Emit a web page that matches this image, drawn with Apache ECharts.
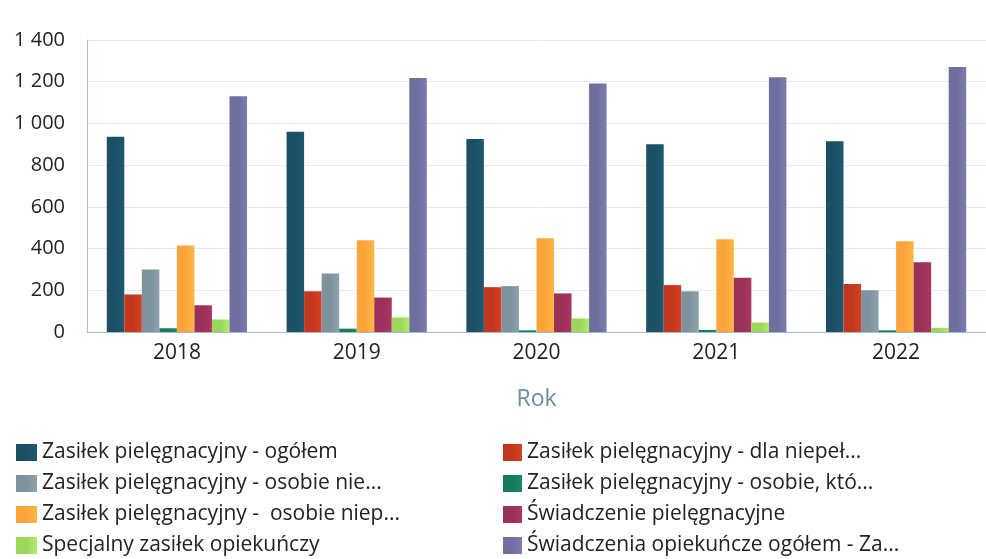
<!DOCTYPE html>
<html>
<head>
    <meta charset="utf-8">
    <title>Rok</title>
    <script src="https://cdn.jsdelivr.net/npm/echarts@6/dist/echarts.min.js"></script>
    <style>
        html, body { margin: 0; padding: 0; background: #fff; }
        #chart { width: 986px; height: 559px; }
    </style>
</head>
<body>
<div id="chart"></div>
<script>
    var years = ['2018', '2019', '2020', '2021', '2022'];
    var seriesNames = [
        'Zasiłek pielęgnacyjny - ogółem',
        'Zasiłek pielęgnacyjny - dla niepeł...',
        'Zasiłek pielęgnacyjny - osobie nie...',
        'Zasiłek pielęgnacyjny - osobie, któ...',
        'Zasiłek pielęgnacyjny -  osobie niep...',
        'Świadczenie pielęgnacyjne',
        'Specjalny zasiłek opiekuńczy',
        'Świadczenia opiekuńcze ogółem - Za...'
    ];
    var ogolem = [936, 960, 925, 900, 915];
    var dlaNiepel = [180, 195, 215, 225, 230];
    var osobieNie = [300, 280, 220, 195, 200];
    var osobieKto = [18, 16, 8, 10, 8];
    var osobieNiep = [415, 440, 450, 445, 435];
    var swiadczenie = [128, 165, 185, 260, 335];
    var specjalny = [60, 70, 65, 45, 20];
    var opiekuncze = [1130, 1218, 1192, 1222, 1270];
    var yTicks = [0, 200, 400, 600, 800, 1000, 1200, 1400];

    var seriesData = [ogolem, dlaNiepel, osobieNie, osobieKto, osobieNiep, swiadczenie, specjalny, opiekuncze];
    var colors = ['#1c4f66', '#c2381f', '#7d929c', '#167a5f', '#fba43c', '#9a3159', '#9cd65c', '#6f6f9f'];

    // lekki efekt walca na słupkach
    function shade(c) {
        return new echarts.graphic.LinearGradient(0, 0, 1, 0, [
            { offset: 0, color: c },
            { offset: 0.5, color: c },
            { offset: 1, color: echarts.color.lift(c, -0.12) }
        ]);
    }

    var series = [];
    for (var i = 0; i < seriesNames.length; i++) {
        series.push({
            name: seriesNames[i],
            type: 'bar',
            data: seriesData[i],
            barGap: '0%',
            barCategoryGap: '22%',
            itemStyle: { color: shade(colors[i]) }
        });
    }

    var legendText = { fontFamily: 'Open Sans', fontSize: 21, color: '#222' };

    var chart = echarts.init(document.getElementById('chart'));
    chart.setOption({
        color: colors,
        animation: false,
        grid: { left: 87, top: 40, width: 913, bottom: 227 },
        legend: [
            {
                orient: 'vertical', left: 16, top: 442, height: 117, padding: 0, itemGap: 10,
                itemWidth: 21, itemHeight: 17, icon: 'rect',
                textStyle: legendText,
                data: [seriesNames[0], seriesNames[2], seriesNames[4], seriesNames[6]]
            },
            {
                orient: 'vertical', left: 503, top: 442, height: 117, padding: 0, itemGap: 10,
                itemWidth: 19, itemHeight: 17, icon: 'rect',
                textStyle: legendText,
                data: [seriesNames[1], seriesNames[3], seriesNames[5], seriesNames[7]]
            }
        ],
        xAxis: {
            type: 'category',
            data: years,
            name: 'Rok',
            nameLocation: 'middle',
            nameGap: 56,
            nameTextStyle: { fontFamily: 'Open Sans', fontSize: 23, color: '#6d8ca6' },
            axisLine: { lineStyle: { color: '#a9bccb' } },
            axisTick: { show: false },
            axisLabel: { fontFamily: 'Open Sans', fontSize: 21, color: '#222', margin: 11 }
        },
        yAxis: {
            type: 'value',
            min: yTicks[0],
            max: yTicks[yTicks.length - 1],
            interval: 200,
            axisLine: { show: true, lineStyle: { color: '#a9bccb' } },
            splitLine: { lineStyle: { color: '#e3ebf2' } },
            axisLabel: {
                fontFamily: 'Open Sans', fontSize: 20, color: '#222', margin: 22,
                formatter: function (v) {
                    return String(v).replace(/\B(?=(\d{3})+(?!\d))/g, ' ');
                }
            }
        },
        series: series
    });
</script>
</body>
</html>
